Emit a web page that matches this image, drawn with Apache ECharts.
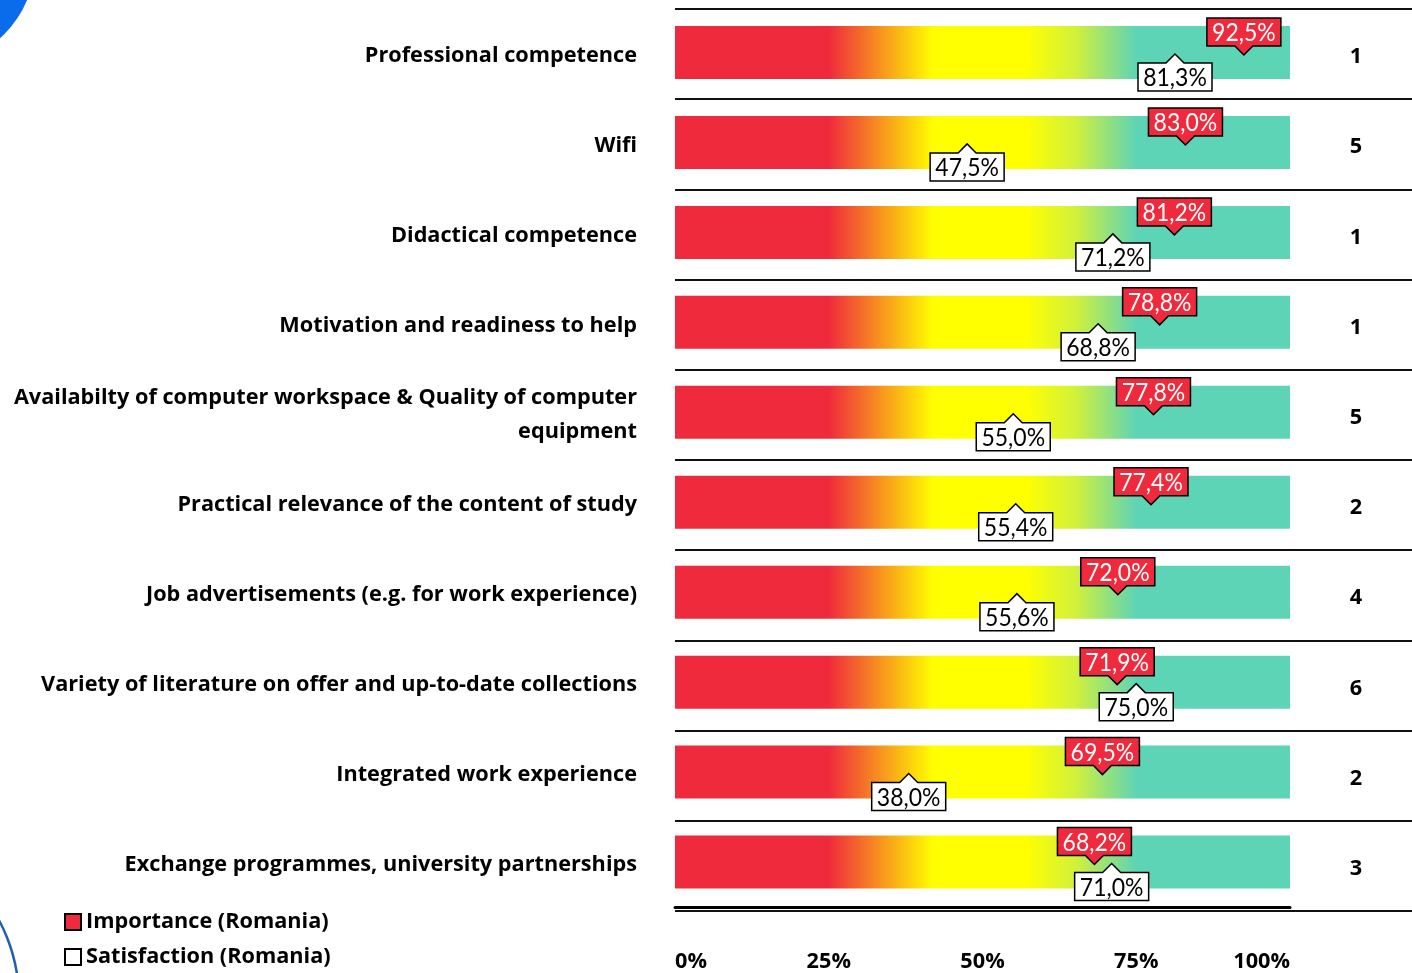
<!DOCTYPE html>
<html>
<head>
<meta charset="utf-8">
<script src="https://cdn.jsdelivr.net/npm/echarts@6/dist/echarts.min.js"></script>
<style>
html,body{margin:0;padding:0;background:#fff;}
#chart{width:1412px;height:973px;}
</style>
</head>
<body>
<div id="chart"></div>
<script>
var categories = [
  'Professional competence',
  'Wifi',
  'Didactical competence',
  'Motivation and readiness to help',
  'Availabilty of computer workspace & Quality of computer\nequipment',
  'Practical relevance of the content of study',
  'Job advertisements (e.g. for work experience)',
  'Variety of literature on offer and up-to-date collections',
  'Integrated work experience',
  'Exchange programmes, university partnerships'
];
var importance = [92.5, 83.0, 81.2, 78.8, 77.8, 77.4, 72.0, 71.9, 69.5, 68.2];
var satisfaction = [81.3, 47.5, 71.2, 68.8, 55.0, 55.4, 55.6, 75.0, 38.0, 71.0];
var ranks = ['1', '5', '1', '1', '5', '2', '4', '6', '2', '3'];
var scaleMax = 100;
var tickLabels = ['0%', '25%', '50%', '75%', '100%'];
var seriesNames = ['Importance (Romania)', 'Satisfaction (Romania)'];

var RED = '#EF2A3C';
var FONT = '"Open Sans"';
var FSIZE = 21.7;
var VFONT = 'Lato';

var chart = echarts.init(document.getElementById('chart'));

function fmt(v) { return v.toFixed(1).replace('.', ',') + '%'; }

function makeRender(kind) {
  return function (params, api) {
    var v = api.value(0);
    var p = api.coord([v, api.value(1)]);
    var x = p[0], yc = p[1];
    var w = 74, h = 28, ph = 9, pw = 9;
    var pts, top, bottom, fill, tfill;
    if (kind === 'imp') {
      var tip = yc + 2.5;
      bottom = tip - ph; top = bottom - h;
      pts = [[x - w / 2, top], [x + w / 2, top], [x + w / 2, bottom], [x + pw, bottom], [x, tip], [x - pw, bottom], [x - w / 2, bottom]];
      fill = RED; tfill = '#fff';
    } else {
      var tip2 = yc + 1.5;
      top = tip2 + ph; bottom = top + h;
      pts = [[x - w / 2, top], [x - pw, top], [x, tip2], [x + pw, top], [x + w / 2, top], [x + w / 2, bottom], [x - w / 2, bottom]];
      fill = '#fff'; tfill = '#000';
    }
    return {
      type: 'group',
      children: [
        { type: 'polygon', shape: { points: pts }, style: { fill: fill, stroke: '#000', lineWidth: 1.5 } },
        { type: 'text', x: x, y: (top + bottom) / 2 + 1, scaleY: 1.08,
          style: { text: fmt(v), x: 0, y: 0, align: 'center', verticalAlign: 'middle', textAlign: 'center', textVerticalAlign: 'middle', font: '23px ' + VFONT, fill: tfill } }
      ]
    };
  };
}

function richLines(s) {
  return s.split('\n').map(function (line) { return '{a|' + line + '}'; }).join('\n');
}

var option = {
  animation: false,
  backgroundColor: '#fff',
  graphic: [
    { type: 'circle', shape: { cx: -70, cy: -40, r: 105 }, style: { fill: '#0A6CEB' }, silent: true },
    { type: 'circle', shape: { cx: -150, cy: 1000, r: 169 }, style: { fill: 'none', stroke: '#1F5FAF', lineWidth: 2.5 }, silent: true }
  ],
  legend: {
    data: seriesNames,
    orient: 'vertical',
    left: 64,
    top: 911,
    padding: 0,
    itemWidth: 16,
    itemHeight: 16,
    itemGap: 13,
    icon: 'rect',
    textStyle: { fontFamily: FONT, fontWeight: 'bold', fontSize: FSIZE, color: '#000' }
  },
  grid: [
    { left: 675, right: 122, top: 7.5, bottom: 64.5 },
    { left: 675, right: 0, top: 9, bottom: 62 }
  ],
  xAxis: [
    {
      type: 'value', gridIndex: 0, min: 0, max: scaleMax, interval: 25,
      axisLine: { show: true, lineStyle: { color: '#000', width: 3 } },
      axisTick: { show: false },
      splitLine: { show: false },
      axisLabel: {
        formatter: function (v) { return tickLabels[Math.round(v / 25)]; },
        fontFamily: FONT, fontWeight: 'bold', fontSize: FSIZE, color: '#000', margin: 44,
        alignMinLabel: 'left', alignMaxLabel: 'right'
      }
    },
    { type: 'value', gridIndex: 1, min: 0, max: 1, show: false }
  ],
  yAxis: [
    {
      type: 'category', gridIndex: 0, data: categories, inverse: true,
      axisLine: { show: false }, axisTick: { show: false }, splitLine: { show: false },
      axisLabel: {
        margin: 38, align: 'right',
        formatter: function (v) { return richLines(v); },
        rich: { a: { fontFamily: FONT, fontWeight: 'bold', fontSize: FSIZE, color: '#000', lineHeight: 34, padding: [6, 0, 0, 0], align: 'right' } }
      }
    },
    {
      type: 'category', gridIndex: 1, data: categories, inverse: true, position: 'right',
      axisLine: { show: false }, axisTick: { show: false },
      splitLine: { show: true, lineStyle: { color: '#111', width: 2 } },
      axisLabel: {
        inside: true, margin: 56, align: 'center',
        formatter: function (v, i) { return '{a|' + ranks[i] + '}'; },
        rich: { a: { fontFamily: FONT, fontWeight: 'bold', fontSize: FSIZE, color: '#000', padding: [6, 0, 0, 0] } }
      }
    }
  ],
  series: [
    {
      type: 'bar', xAxisIndex: 0, yAxisIndex: 0, barWidth: 53, silent: true, z: 2,
      data: categories.map(function () { return scaleMax; }),
      itemStyle: {
        color: {
          type: 'linear', x: 0, y: 0, x2: 1, y2: 0,
          colorStops: [
            { offset: 0, color: RED },
            { offset: 0.25, color: RED },
            { offset: 0.42, color: '#FFFF00' },
            { offset: 0.57, color: '#FFFF00' },
            { offset: 0.65, color: '#D2F13A' },
            { offset: 0.75, color: '#5ED4B6' },
            { offset: 1, color: '#5ED4B6' }
          ]
        }
      }
    },
    {
      name: seriesNames[0], type: 'custom', xAxisIndex: 0, yAxisIndex: 0, clip: false, z: 5,
      itemStyle: { color: RED, borderColor: '#000', borderWidth: 1.5 },
      encode: { x: 0, y: 1 },
      data: importance.map(function (v, i) { return [v, i]; }),
      renderItem: makeRender('imp')
    },
    {
      name: seriesNames[1], type: 'custom', xAxisIndex: 0, yAxisIndex: 0, clip: false, z: 6,
      itemStyle: { color: '#fff', borderColor: '#000', borderWidth: 1.5 },
      encode: { x: 0, y: 1 },
      data: satisfaction.map(function (v, i) { return [v, i]; }),
      renderItem: makeRender('sat')
    }
  ]
};
chart.setOption(option);
</script>
</body>
</html>
